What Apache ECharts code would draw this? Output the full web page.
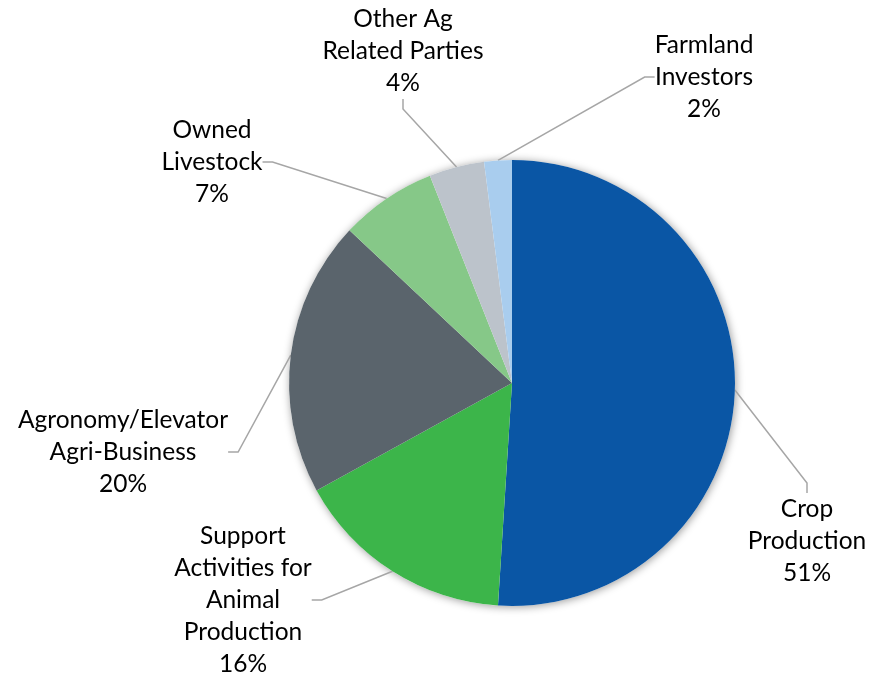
<!DOCTYPE html>
<html>
<head>
<meta charset="utf-8">
<script src="https://cdn.jsdelivr.net/npm/echarts@6/dist/echarts.min.js"></script>
<style>
html,body{margin:0;padding:0;background:#fff;}
#chart{width:883px;height:676px;}
</style>
</head>
<body>
<div id="chart"></div>
<script>
// Data
const categories = [
  'Crop\nProduction',
  'Support\nActivities for\nAnimal\nProduction',
  'Agronomy/Elevator\nAgri-Business',
  'Owned\nLivestock',
  'Other Ag\nRelated Parties',
  'Farmland\nInvestors'
];
const values = [51, 16, 20, 7, 4, 2];
const colors = ['#0A56A5', '#3CB54A', '#5A646C', '#86C888', '#BCC3CB', '#A9CDEE'];

// Label block centres (layout only)
const labelCentres = [
  [807, 541],
  [243, 600],
  [123, 452],
  [212, 162],
  [403, 51],
  [704, 77]
];

const total = values.reduce((a, b) => a + b, 0);
const chart = echarts.init(document.getElementById('chart'));
chart.setOption({
  animation: false,
  backgroundColor: '#fff',
  series: [
    {
      type: 'pie',
      silent: true,
      center: [512, 383],
      radius: 223,
      z: 1,
      label: { show: false },
      labelLine: { show: false },
      itemStyle: { color: '#fff', shadowBlur: 9, shadowColor: 'rgba(0,0,0,0.4)', shadowOffsetX: 1, shadowOffsetY: 1 },
      data: [{ value: total, name: '' }]
    },
    {
      type: 'pie',
      center: [512, 383],
      radius: 223,
      startAngle: 90,
      clockwise: true,
      z: 2,
      itemStyle: { borderWidth: 0 },
      label: {
        show: true,
        position: 'outside',
        overflow: 'none',
        edgeDistance: 0,
        bleedMargin: 0,
        formatter: p => p.name + '\n' + p.value + '%',
        fontFamily: 'Lato, "Open Sans", sans-serif',
        fontSize: 24.5,
        lineHeight: 32,
        color: '#000',
        align: 'center'
      },
      labelLine: {
        show: true,
        length: 10,
        length2: 10,
        lineStyle: { color: '#A6A6A6', width: 1.5 }
      },
      labelLayout: function (params) {
        const c = labelCentres[params.dataIndex];
        return { x: c[0], y: c[1], align: 'center', verticalAlign: 'middle' };
      },
      data: categories.map((n, i) => ({ name: n, value: values[i], itemStyle: { color: colors[i] } }))
    }
  ]
});
</script>
</body>
</html>
